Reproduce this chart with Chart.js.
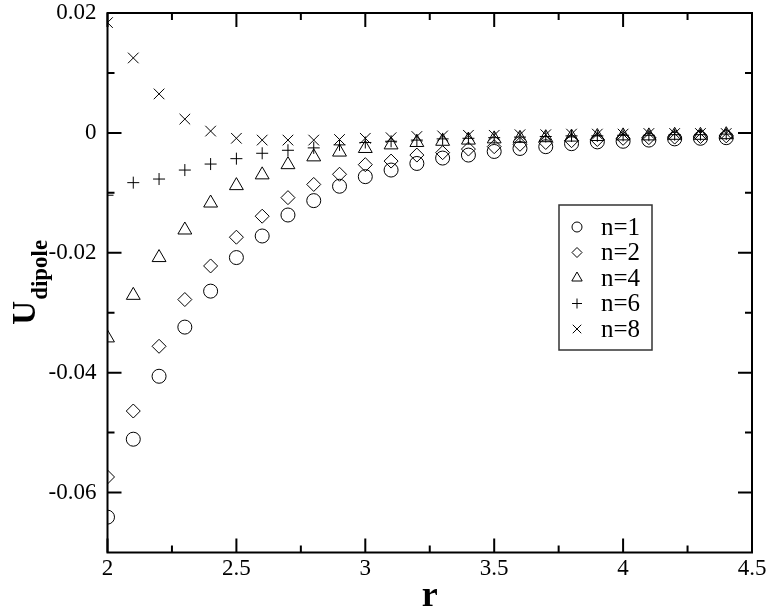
<!DOCTYPE html>
<html>
<head>
<meta charset="utf-8">
<script src="https://cdn.jsdelivr.net/npm/chart.js@4.4.0/dist/chart.umd.min.js"></script>
<style>
html, body { margin: 0; padding: 0; background: #fff; }
#wrap { width: 770px; height: 615px; }
</style>
</head>
<body>
<div id="wrap"><canvas id="chart" width="770" height="615"></canvas></div>
<script>
//============================================= Data =============================================//
const rValues = [2.0, 2.1, 2.2, 2.3, 2.4, 2.5, 2.6, 2.7, 2.8, 2.9, 3.0, 3.1, 3.2,
                 3.3, 3.4, 3.5, 3.6, 3.7, 3.8, 3.9, 4.0, 4.1, 4.2, 4.3, 4.4];

const n1 = [-0.0641, -0.0511, -0.0406, -0.0324, -0.0264, -0.0208, -0.0172, -0.0137, -0.0113, -0.0089, -0.0073, -0.0062, -0.0051,
            -0.0042, -0.0037, -0.0031, -0.0026, -0.0023, -0.0018, -0.0015, -0.0014, -0.0012, -0.0010, -0.0009, -0.0008];
const n2 = [-0.0574, -0.0464, -0.0356, -0.0278, -0.0222, -0.0174, -0.0139, -0.0108, -0.0086, -0.0069, -0.0053, -0.0047, -0.0037,
            -0.0033, -0.0027, -0.0023, -0.0019, -0.0016, -0.0013, -0.0011, -0.0009, -0.0008, -0.0007, -0.0006, -0.0005];
const n4 = [-0.0342, -0.0271, -0.0208, -0.0162, -0.0117, -0.0088, -0.0070, -0.0053, -0.0040, -0.0032, -0.0026, -0.0020, -0.0016,
            -0.0014, -0.0012, -0.0010, -0.0009, -0.0008, -0.0007, -0.0006, -0.0005, -0.0005, -0.0004, -0.0004, -0.0003];
const n6 = [-0.0104, -0.0083, -0.0077, -0.0062, -0.0052, -0.0043, -0.0034, -0.0029, -0.0025, -0.0020, -0.0016, -0.0014, -0.0012,
            -0.0010, -0.0009, -0.0008, -0.0007, -0.0006, -0.0005, -0.0005, -0.0004, -0.0004, -0.0003, -0.0003, -0.0002];
const n8 = [0.0184, 0.0125, 0.0065, 0.0023, 0.0003, -0.0009, -0.0012, -0.0012, -0.0012, -0.0011, -0.0009, -0.0008, -0.0006,
            -0.0005, -0.0004, -0.0004, -0.0003, -0.0003, -0.0002, -0.0002, -0.0002, -0.0001, -0.0001, -0.0001, -0.0001];

const seriesNames = ['n=1', 'n=2', 'n=4', 'n=6', 'n=8'];
const seriesValues = [n1, n2, n4, n6, n8];

const xTicks = [2, 2.5, 3, 3.5, 4, 4.5];
const xTickLabels = ['2', '2.5', '3', '3.5', '4', '4.5'];
const yTicks = [0.02, 0, -0.02, -0.04, -0.06];
const yTickLabels = ['0.02', '0', '-0.02', '-0.04', '-0.06'];

//============================================= Styles =============================================//
const FONT = '"Liberation Serif", serif';
Chart.defaults.font.family = FONT;
Chart.defaults.color = '#000';

const markers = [
    { style: 'circle', radius: 7, legendRadius: 5 },
    { style: 'rectRot', radius: 7, legendRadius: 5 },
    { style: 'triangle', radius: 8, legendRadius: 6 },
    { style: 'cross', radius: 6, legendRadius: 5 },
    { style: 'crossRot', radius: 7.5, legendRadius: 6 }
];

const datasets = seriesNames.map((name, i) => ({
    label: name,
    data: rValues.map((r, j) => ({ x: r, y: seriesValues[i][j] })),
    pointStyle: markers[i].style,
    pointRadius: markers[i].radius,
    pointHoverRadius: markers[i].radius,
    pointBorderColor: '#000',
    pointBackgroundColor: 'rgba(0,0,0,0)',
    pointBorderWidth: 1,
    showLine: false
}));

//============================================= Plugins =============================================//
// frame on all four sides, ticks pointing inward
const frameTicks = {
    id: 'frameTicks',
    afterDatasetsDraw(chart) {
        const { ctx, chartArea: a, scales: { x, y } } = chart;
        const major = 14, minor = 7;
        ctx.save();
        ctx.strokeStyle = '#000';
        ctx.lineWidth = 2;
        ctx.strokeRect(a.left, a.top, a.right - a.left, a.bottom - a.top);
        ctx.beginPath();
        xTicks.forEach((v, i) => {
            const px = x.getPixelForValue(v);
            ctx.moveTo(px, a.bottom); ctx.lineTo(px, a.bottom - major);
            ctx.moveTo(px, a.top); ctx.lineTo(px, a.top + major);
            if (i < xTicks.length - 1) {
                const pm = x.getPixelForValue((v + xTicks[i + 1]) / 2);
                ctx.moveTo(pm, a.bottom); ctx.lineTo(pm, a.bottom - minor);
                ctx.moveTo(pm, a.top); ctx.lineTo(pm, a.top + minor);
            }
        });
        yTicks.forEach((v, i) => {
            const py = y.getPixelForValue(v);
            ctx.moveTo(a.left, py); ctx.lineTo(a.left + major, py);
            ctx.moveTo(a.right, py); ctx.lineTo(a.right - major, py);
            if (i < yTicks.length - 1) {
                const pm = y.getPixelForValue((v + yTicks[i + 1]) / 2);
                ctx.moveTo(a.left, pm); ctx.lineTo(a.left + minor, pm);
                ctx.moveTo(a.right, pm); ctx.lineTo(a.right - minor, pm);
            }
        });
        ctx.stroke();
        ctx.restore();
    }
};

// y title with subscript: U_dipole
const yTitle = {
    id: 'yTitle',
    afterDraw(chart) {
        const { ctx, chartArea: a } = chart;
        const cy = (a.top + a.bottom) / 2;
        ctx.save();
        ctx.translate(0, cy);
        ctx.rotate(-Math.PI / 2);
        ctx.fillStyle = '#000';
        ctx.textBaseline = 'alphabetic';
        ctx.font = 'bold 33px ' + FONT;
        const wU = ctx.measureText('U').width;
        ctx.font = 'bold 23px ' + FONT;
        const wSub = ctx.measureText('dipole').width;
        const x0 = -(wU + wSub) / 2;
        ctx.font = 'bold 33px ' + FONT;
        ctx.fillText('U', x0, 35);
        ctx.font = 'bold 23px ' + FONT;
        ctx.fillText('dipole', x0 + wU + 1, 47);
        ctx.restore();
    }
};

// boxed legend inside the plot
const boxLegend = {
    id: 'boxLegend',
    afterDraw(chart) {
        const { ctx } = chart;
        const box = { left: 559, top: 205, width: 93, height: 145 };
        const rowH = 25.5, firstY = 227;
        ctx.save();
        ctx.strokeStyle = '#333';
        ctx.lineWidth = 1.5;
        ctx.strokeRect(box.left, box.top, box.width, box.height);
        ctx.font = '25px ' + FONT;
        ctx.textBaseline = 'middle';
        chart.data.datasets.forEach((ds, i) => {
            const yy = firstY + i * rowH;
            ctx.fillStyle = 'rgba(0,0,0,0)';
            ctx.strokeStyle = '#000';
            ctx.lineWidth = 1;
            Chart.helpers.drawPoint(ctx, {
                pointStyle: ds.pointStyle,
                radius: markers[i].legendRadius,
                borderWidth: 1,
                rotation: 0
            }, 577, yy);
            ctx.fillStyle = '#000';
            ctx.fillText(ds.label, 601, yy + 1);
        });
        ctx.restore();
    }
};

//============================================= Chart =============================================//
const config = {
    type: 'scatter',
    data: { datasets: datasets },
    options: {
        responsive: false,
        animation: false,
        layout: {
            padding: { left: 0, right: 18, top: 13, bottom: 0 }
        },
        plugins: {
            legend: { display: false },
            tooltip: { enabled: false }
        },
        scales: {
            x: {
                type: 'linear',
                min: 2,
                max: 4.5,
                grid: { display: false },
                border: { display: false },
                afterFit(scale) {
                    scale.height = 62.5;
                    scale.paddingLeft = 0;
                    scale.paddingRight = 0;
                },
                afterBuildTicks(scale) { scale.ticks = xTicks.map(v => ({ value: v })); },
                ticks: {
                    padding: -3,
                    maxRotation: 0,
                    font: { size: 23, lineHeight: 1 },
                    callback: (v, i) => xTickLabels[i]
                },
                title: {
                    display: true,
                    text: 'r',
                    font: { size: 36, weight: 'bold', lineHeight: 1 },
                    padding: { top: 0, bottom: 0 }
                }
            },
            y: {
                type: 'linear',
                min: -0.07,
                max: 0.02,
                grid: { display: false },
                border: { display: false },
                afterFit(scale) {
                    scale.width = 107.5;
                    scale.paddingTop = 0;
                    scale.paddingBottom = 0;
                },
                afterBuildTicks(scale) { scale.ticks = yTicks.map(v => ({ value: v })); },
                ticks: {
                    padding: 3,
                    font: { size: 23, lineHeight: 1 },
                    callback: (v, i) => yTickLabels[i]
                }
            }
        }
    },
    plugins: [frameTicks, yTitle, boxLegend]
};

// make sure the serif face is ready before the canvas uses it
Promise.all([
    document.fonts.load('23px "Liberation Serif"'),
    document.fonts.load('bold 33px "Liberation Serif"')
]).catch(() => {}).then(() => {
    new Chart(document.getElementById('chart'), config);
});
</script>
</body>
</html>
